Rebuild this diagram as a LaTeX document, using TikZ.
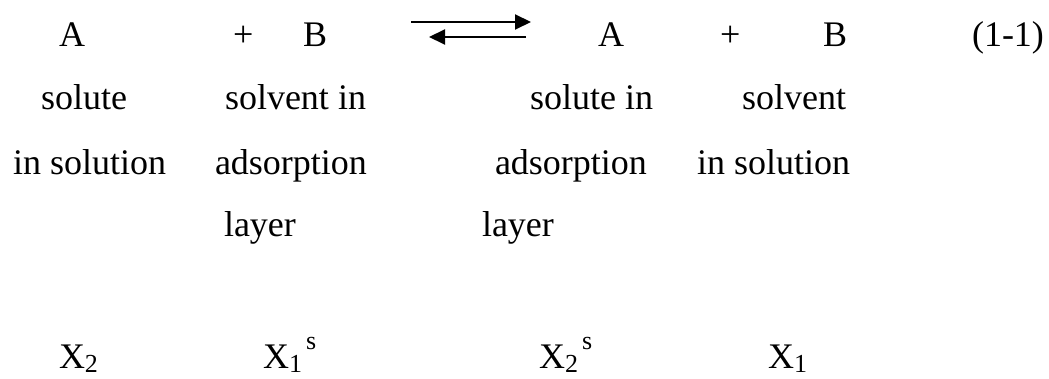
\documentclass[tikz,border=0pt]{standalone}
\usepackage{fontspec}
\setmainfont{Liberation Serif}
\usetikzlibrary{arrows.meta}
\newcommand\mysub[1]{\raisebox{-4pt}{\fontsize{26}{26}\selectfont #1}}
\newcommand\mysup[1]{\hspace{4pt}\raisebox{19pt}{\fontsize{26}{26}\selectfont #1}}
\begin{document}
\begin{tikzpicture}[x=1pt,y=-1pt,
  txt/.style={anchor=base west,inner sep=0pt,outer sep=0pt,font=\fontsize{36}{43}\selectfont},
  eqarrow/.style={line width=2pt,-{Triangle[length=16pt,width=15pt]}}]
\useasboundingbox[fill=white] (0,0) rectangle (1049,379);
% row 1
\node[txt] (a1) at (59,47) {A};
\node[txt] (p1) at (233,47) {+};
\node[txt] (b1) at (303,47) {B};
\node[txt] (a2) at (598,47) {A};
\node[txt] (p2) at (720,47) {+};
\node[txt] (b2) at (823,47) {B};
\node[txt] (eq) at (972,47) {(1-1)};
% arrows
\coordinate (f1) at (411,22);
\coordinate (f2) at (531,22);
\coordinate (r1) at (526,37);
\coordinate (r2) at (429,37);
\draw[eqarrow] (f1) -- (f2);
\draw[eqarrow] (r1) -- (r2);
% row 2
\node[txt] (s1) at (41,110) {solute};
\node[txt] (s2) at (225,110) {solvent in};
\node[txt] (s3) at (530,110) {solute in};
\node[txt] (s4) at (742,110) {solvent};
% row 3
\node[txt] (t1) at (13,175) {in solution};
\node[txt] (t2) at (215,175) {adsorption};
\node[txt] (t3) at (495,175) {adsorption};
\node[txt] (t4) at (697,175) {in solution};
% row 4
\node[txt] (l1) at (224,237) {layer};
\node[txt] (l2) at (482,237) {layer};
% row 5
\node[txt] (x1) at (59,368) {X\mysub{2}};
\node[txt] (x2) at (263,368) {X\mysub{1}\mysup{s}};
\node[txt] (x3) at (539,368) {X\mysub{2}\mysup{s}};
\node[txt] (x4) at (768,368) {X\mysub{1}};
\end{tikzpicture}
\end{document}
